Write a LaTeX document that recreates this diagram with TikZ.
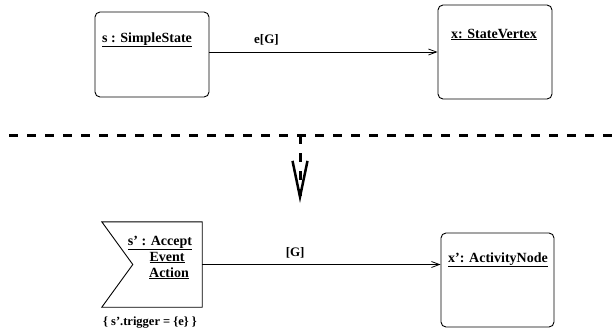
\documentclass[tikz,border=0pt]{standalone}
\usepackage{fontspec}
\setmainfont{Liberation Serif}
\usetikzlibrary{arrows.meta}
\tikzset{
  statebox/.style={draw, rounded corners=5pt, line width=0.9pt, inner sep=0pt},
  plainbox/.style={inner sep=0pt},
  ttl/.style={font=\fontsize{14}{16}\selectfont\bfseries, inner sep=0pt, anchor=base},
  lbl/.style={font=\fontsize{13}{15}\selectfont\bfseries, inner sep=0pt},
  flow/.style={line width=0.8pt, -{Straight Barb[length=8pt,width=6pt]}},
  sep/.style={line width=3pt, dash pattern=on 9pt off 9pt, dash phase=9pt},
  bigarrow/.style={line width=3pt, dash pattern=on 9pt off 9pt,
    -{Straight Barb[length=36pt,width=15pt,line width=2.5pt]}}
}
\begin{document}
\begin{tikzpicture}[x=1pt,y=-1pt]
\useasboundingbox (0,0) rectangle (612,333);
% top
\node[statebox, minimum width=114pt, minimum height=85pt] (s) at (152,54.5) {};
\node[statebox, minimum width=114pt, minimum height=94pt] (x) at (495,52) {};
\node[ttl] (st) at (147,42) {\underline{s : SimpleState}};
\node[ttl] (xt) at (494,38) {\underline{x: StateVertex}};
\draw[flow] (s.east |- x.west) -- (x.west) node[lbl, pos=0.25, above=6pt] {e[G]};
% separator
\coordinate (l) at (0,135);
\coordinate (r) at (612,135);
\coordinate (m) at (300,135);
\coordinate (tip) at (300,203);
\draw[sep] (l) -- (r);
\draw[bigarrow] (m) -- (tip);
% bottom
\node[plainbox, minimum width=100pt, minimum height=85pt] (ae) at (152,264.5) {};
\draw[line width=0.9pt] (ae.north west) -- (ae.north east) -- (ae.south east)
  -- (ae.south west) -- ([xshift=31pt]ae.west) -- cycle;
\node[ttl] (a1) at (160,245) {\underline{s’ : Accept}};
\node[ttl] (a2) at (167,261) {\underline{Event}};
\node[ttl] (a3) at (169,277) {\underline{Action}};
\node[font=\fontsize{12.5}{14}\selectfont\bfseries, inner sep=0pt, anchor=base] (trig) at (150,325) {\{ s’.trigger = \{e\} \}};
\node[statebox, minimum width=113pt, minimum height=94pt] (xa) at (497.5,280) {};
\node[ttl] (xat) at (498,262) {\underline{x’: ActivityNode}};
\draw[flow] (ae.east) -- (ae.east -| xa.west) node[lbl, pos=0.39, above=6pt] {[G]};
\end{tikzpicture}
\end{document}
